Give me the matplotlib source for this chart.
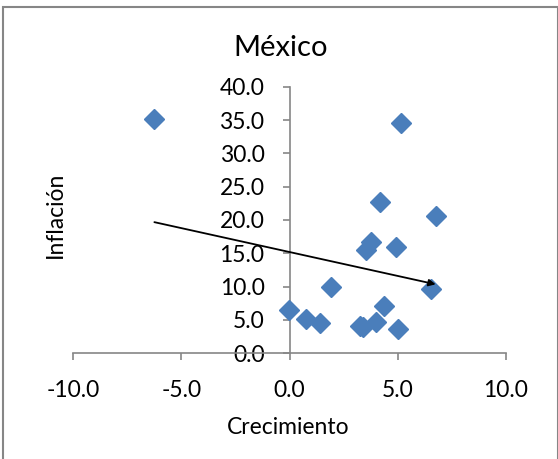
import matplotlib
matplotlib.use("Agg")
import matplotlib.pyplot as plt
from matplotlib.patches import Rectangle
import numpy as np

plt.rcParams['font.family'] = ['Lato', 'DejaVu Sans']

crecimiento = [-6.25, 5.17, 4.20, 6.76, 3.78, 3.55, 4.94, 1.93, 6.56, -0.03,
               0.77, 1.39, 4.35, 3.24, 3.39, 4.00, 5.01]
inflacion = [35.1, 34.5, 22.7, 20.6, 16.7, 15.5, 16.0, 10.0, 9.6, 6.5,
             5.1, 4.6, 7.1, 4.1, 4.0, 4.7, 3.7]
x_ticks = [-10.0, -5.0, 0.0, 5.0, 10.0]
y_ticks = [0.0, 5.0, 10.0, 15.0, 20.0, 25.0, 30.0, 35.0, 40.0]

W, H = 558, 459
fig = plt.figure(figsize=(W / 100, H / 100), dpi=100)

# chart border
fig.patches.append(Rectangle((3 / W, -0.01), (557.5 - 3) / W, (H - 7) / H + 0.01,
                             transform=fig.transFigure, fill=False,
                             edgecolor='#868686', linewidth=1.5))

left, right = 73.3, 505.7
top, bottom = 86.7, 353.3
ax = fig.add_axes([left / W, 1 - bottom / H, (right - left) / W, (bottom - top) / H])
ax.set_xlim(-10, 10)
ax.set_ylim(0, 40)
ax.patch.set_alpha(0)

for s in ['top', 'right']:
    ax.spines[s].set_visible(False)
ax.spines['left'].set_position(('data', 0))
ax.spines['bottom'].set_position(('data', 0))
for s in ['left', 'bottom']:
    ax.spines[s].set_color('#868686')
    ax.spines[s].set_linewidth(1.2)

ax.set_xticks(x_ticks)
ax.set_yticks(y_ticks)
ax.set_xticklabels([f"{v:.1f}" for v in x_ticks])
ax.set_yticklabels([f"{v:.1f}" for v in y_ticks])
ax.tick_params(axis='both', direction='out', length=5, width=1.2, color='#868686',
               labelsize=16.5, labelcolor='black')
ax.tick_params(axis='y', pad=13)
ax.tick_params(axis='x', pad=14)

ax.plot(crecimiento, inflacion, linestyle='none', marker='D', markersize=10,
        color='#4A7EBB', markeredgecolor='#4A7EBB', zorder=3)

# linear trend line
m, b = np.polyfit(crecimiento, inflacion, 1)
x0, x1 = min(crecimiento), max(crecimiento)
ax.annotate('', xy=(x1, m * x1 + b), xytext=(x0, m * x0 + b),
            arrowprops=dict(arrowstyle='-|>', color='black', lw=1.3,
                            mutation_scale=10, shrinkA=0, shrinkB=0), zorder=4)

fig.text(281 / W, 1 - 48 / H, 'México', ha='center', va='center', fontsize=21)
fig.text(55 / W, 1 - 215 / H, 'Inflación', ha='center', va='center', fontsize=16.5,
         rotation=90)
fig.text(288 / W, 1 - 428 / H, 'Crecimiento', ha='center', va='center', fontsize=16.5)

fig.savefig('out.png', dpi=100)
